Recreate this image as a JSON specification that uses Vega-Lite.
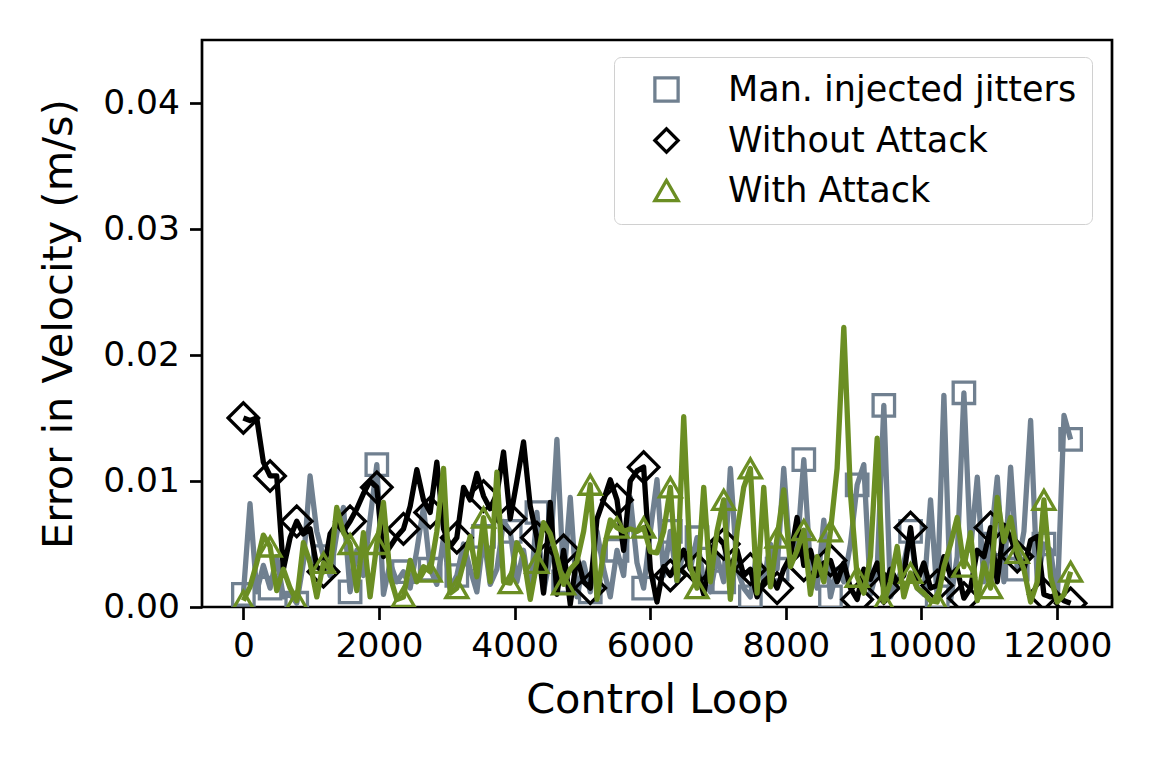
{
"$schema": "https://vega.github.io/schema/vega-lite/v6.json",
"width": 910, "height": 567,
"autosize": "none",
"padding": {"left": 202, "top": 40, "right": 40, "bottom": 161},
"background": "white",
"config": {"font": "DejaVu Sans", "view": {"stroke": "black", "strokeWidth": 2.7},
  "axis": {"grid": false, "domain": false, "tickSize": 12.5, "tickWidth": 2.7, "tickColor": "black", "labelFontSize": 34.5, "labelColor": "black", "labelFont": "DejaVu Sans", "labelPadding": 10, "titleFontSize": 41.5, "titleFont": "DejaVu Sans", "titleFontWeight": "normal", "titleColor": "black", "labelOverlap": false, "labelFlush": false}},
"data": {"values": [
{"i":0,"x":0,"j":0.0010,"w":0.0150,"a":0.0005},
{"i":1,"x":98,"j":0.0082,"w":0.0148,"a":0.0016},
{"i":2,"x":197,"j":0.0012,"w":0.0150,"a":0.0035},
{"i":3,"x":295,"j":0.0033,"w":0.0115,"a":0.0057},
{"i":4,"x":394,"j":0.0015,"w":0.0104,"a":0.0048},
{"i":5,"x":492,"j":0.0040,"w":0.0104,"a":0.0013},
{"i":6,"x":590,"j":0.0008,"w":0.0030,"a":0.0030},
{"i":7,"x":689,"j":0.0010,"w":0.0055,"a":0.0015},
{"i":8,"x":787,"j":0.0003,"w":0.0068,"a":0.0005},
{"i":9,"x":885,"j":0.0035,"w":0.0058,"a":0.0051},
{"i":10,"x":984,"j":0.0104,"w":0.0062,"a":0.0035},
{"i":11,"x":1083,"j":0.0060,"w":0.0032,"a":0.0008},
{"i":12,"x":1181,"j":0.0040,"w":0.0028,"a":0.0035},
{"i":13,"x":1279,"j":0.0025,"w":0.0058,"a":0.0030},
{"i":14,"x":1377,"j":0.0058,"w":0.0066,"a":0.0079},
{"i":15,"x":1476,"j":0.0079,"w":0.0060,"a":0.0059},
{"i":16,"x":1574,"j":0.0012,"w":0.0068,"a":0.0050},
{"i":17,"x":1673,"j":0.0045,"w":0.0078,"a":0.0013},
{"i":18,"x":1771,"j":0.0025,"w":0.0090,"a":0.0059},
{"i":19,"x":1869,"j":0.0070,"w":0.0100,"a":0.0008},
{"i":20,"x":1968,"j":0.0113,"w":0.0095,"a":0.0050},
{"i":21,"x":2066,"j":0.0010,"w":0.0040,"a":0.0083},
{"i":22,"x":2165,"j":0.0035,"w":0.0048,"a":0.0024},
{"i":23,"x":2263,"j":0.0020,"w":0.0056,"a":0.0006},
{"i":24,"x":2361,"j":0.0028,"w":0.0062,"a":0.0008},
{"i":25,"x":2460,"j":0.0015,"w":0.0080,"a":0.0037},
{"i":26,"x":2558,"j":0.0045,"w":0.0109,"a":0.0020},
{"i":27,"x":2656,"j":0.0079,"w":0.0085,"a":0.0032},
{"i":28,"x":2755,"j":0.0030,"w":0.0075,"a":0.0028},
{"i":29,"x":2853,"j":0.0018,"w":0.0115,"a":0.0060},
{"i":30,"x":2952,"j":0.0055,"w":0.0062,"a":0.0110},
{"i":31,"x":3050,"j":0.0015,"w":0.0048,"a":0.0011},
{"i":32,"x":3148,"j":0.0025,"w":0.0055,"a":0.0015},
{"i":33,"x":3247,"j":0.0050,"w":0.0095,"a":0.0035},
{"i":34,"x":3345,"j":0.0030,"w":0.0085,"a":0.0056},
{"i":35,"x":3444,"j":0.0012,"w":0.0106,"a":0.0024},
{"i":36,"x":3542,"j":0.0056,"w":0.0088,"a":0.0071},
{"i":37,"x":3640,"j":0.0018,"w":0.0078,"a":0.0020},
{"i":38,"x":3739,"j":0.0030,"w":0.0090,"a":0.0107},
{"i":39,"x":3837,"j":0.0068,"w":0.0123,"a":0.0020},
{"i":40,"x":3935,"j":0.0060,"w":0.0070,"a":0.0019},
{"i":41,"x":4034,"j":0.0020,"w":0.0100,"a":0.0051},
{"i":42,"x":4132,"j":0.0045,"w":0.0131,"a":0.0040},
{"i":43,"x":4231,"j":0.0010,"w":0.0080,"a":0.0006},
{"i":44,"x":4329,"j":0.0075,"w":0.0055,"a":0.0035},
{"i":45,"x":4427,"j":0.0012,"w":0.0011,"a":0.0067},
{"i":46,"x":4526,"j":0.0040,"w":0.0083,"a":0.0058},
{"i":47,"x":4624,"j":0.0133,"w":0.0010,"a":0.0040},
{"i":48,"x":4723,"j":0.0020,"w":0.0045,"a":0.0018},
{"i":49,"x":4821,"j":0.0087,"w":0.0002,"a":0.0030},
{"i":50,"x":4919,"j":0.0008,"w":0.0040,"a":0.0036},
{"i":51,"x":5018,"j":0.0035,"w":0.0020,"a":0.0060},
{"i":52,"x":5116,"j":0.0012,"w":0.0015,"a":0.0097},
{"i":53,"x":5215,"j":0.0060,"w":0.0070,"a":0.0006},
{"i":54,"x":5313,"j":0.0030,"w":0.0085,"a":0.0045},
{"i":55,"x":5411,"j":0.0008,"w":0.0101,"a":0.0069},
{"i":56,"x":5510,"j":0.0045,"w":0.0085,"a":0.0063},
{"i":57,"x":5608,"j":0.0025,"w":0.0045,"a":0.0060},
{"i":58,"x":5706,"j":0.0087,"w":0.0100,"a":0.0062},
{"i":59,"x":5805,"j":0.0035,"w":0.0108,"a":0.0060},
{"i":60,"x":5903,"j":0.0015,"w":0.0111,"a":0.0063},
{"i":61,"x":6002,"j":0.0060,"w":0.0030,"a":0.0044},
{"i":62,"x":6100,"j":0.0101,"w":0.0004,"a":0.0043},
{"i":63,"x":6198,"j":0.0025,"w":0.0032,"a":0.0060},
{"i":64,"x":6297,"j":0.0060,"w":0.0025,"a":0.0095},
{"i":65,"x":6395,"j":0.0020,"w":0.0035,"a":0.0021},
{"i":66,"x":6494,"j":0.0045,"w":0.0045,"a":0.0151},
{"i":67,"x":6592,"j":0.0030,"w":0.0030,"a":0.0032},
{"i":68,"x":6690,"j":0.0055,"w":0.0030,"a":0.0015},
{"i":69,"x":6789,"j":0.0020,"w":0.0010,"a":0.0095},
{"i":70,"x":6887,"j":0.0012,"w":0.0040,"a":0.0020},
{"i":71,"x":6985,"j":0.0040,"w":0.0056,"a":0.0060},
{"i":72,"x":7084,"j":0.0020,"w":0.0050,"a":0.0085},
{"i":73,"x":7182,"j":0.0110,"w":0.0030,"a":0.0006},
{"i":74,"x":7281,"j":0.0030,"w":0.0045,"a":0.0060},
{"i":75,"x":7379,"j":0.0015,"w":0.0025,"a":0.0095},
{"i":76,"x":7477,"j":0.0008,"w":0.0030,"a":0.0110},
{"i":77,"x":7576,"j":0.0045,"w":0.0008,"a":0.0011},
{"i":78,"x":7674,"j":0.0020,"w":0.0020,"a":0.0095},
{"i":79,"x":7773,"j":0.0050,"w":0.0025,"a":0.0016},
{"i":80,"x":7871,"j":0.0030,"w":0.0015,"a":0.0055},
{"i":81,"x":7969,"j":0.0110,"w":0.0030,"a":0.0093},
{"i":82,"x":8068,"j":0.0035,"w":0.0040,"a":0.0032},
{"i":83,"x":8166,"j":0.0045,"w":0.0071,"a":0.0045},
{"i":84,"x":8265,"j":0.0117,"w":0.0033,"a":0.0061},
{"i":85,"x":8363,"j":0.0030,"w":0.0045,"a":0.0010},
{"i":86,"x":8461,"j":0.0015,"w":0.0025,"a":0.0040},
{"i":87,"x":8560,"j":0.0069,"w":0.0035,"a":0.0020},
{"i":88,"x":8658,"j":0.0008,"w":0.0037,"a":0.0060},
{"i":89,"x":8756,"j":0.0030,"w":0.0020,"a":0.0110},
{"i":90,"x":8855,"j":0.0020,"w":0.0035,"a":0.0222},
{"i":91,"x":8953,"j":0.0050,"w":0.0015,"a":0.0090},
{"i":92,"x":9052,"j":0.0097,"w":0.0006,"a":0.0024},
{"i":93,"x":9150,"j":0.0113,"w":0.0030,"a":0.0011},
{"i":94,"x":9248,"j":0.0010,"w":0.0022,"a":0.0040},
{"i":95,"x":9347,"j":0.0030,"w":0.0035,"a":0.0134},
{"i":96,"x":9445,"j":0.0160,"w":0.0015,"a":0.0004},
{"i":97,"x":9544,"j":0.0008,"w":0.0030,"a":0.0020},
{"i":98,"x":9642,"j":0.0020,"w":0.0020,"a":0.0048},
{"i":99,"x":9740,"j":0.0035,"w":0.0025,"a":0.0008},
{"i":100,"x":9839,"j":0.0060,"w":0.0063,"a":0.0027},
{"i":101,"x":9937,"j":0.0015,"w":0.0020,"a":0.0015},
{"i":102,"x":10035,"j":0.0010,"w":0.0035,"a":0.0011},
{"i":103,"x":10134,"j":0.0085,"w":0.0015,"a":0.0005},
{"i":104,"x":10232,"j":0.0008,"w":0.0017,"a":0.0004},
{"i":105,"x":10331,"j":0.0168,"w":0.0040,"a":0.0032},
{"i":106,"x":10429,"j":0.0005,"w":0.0025,"a":0.0050},
{"i":107,"x":10527,"j":0.0040,"w":0.0030,"a":0.0071},
{"i":108,"x":10626,"j":0.0170,"w":0.0007,"a":0.0032},
{"i":109,"x":10724,"j":0.0045,"w":0.0015,"a":0.0059},
{"i":110,"x":10823,"j":0.0103,"w":0.0045,"a":0.0005},
{"i":111,"x":10921,"j":0.0020,"w":0.0040,"a":0.0035},
{"i":112,"x":11019,"j":0.0050,"w":0.0063,"a":0.0015},
{"i":113,"x":11118,"j":0.0103,"w":0.0020,"a":0.0087},
{"i":114,"x":11216,"j":0.0020,"w":0.0065,"a":0.0052},
{"i":115,"x":11315,"j":0.0111,"w":0.0055,"a":0.0071},
{"i":116,"x":11413,"j":0.0030,"w":0.0040,"a":0.0043},
{"i":117,"x":11511,"j":0.0060,"w":0.0030,"a":0.0030},
{"i":118,"x":11610,"j":0.0148,"w":0.0053,"a":0.0004},
{"i":119,"x":11708,"j":0.0020,"w":0.0056,"a":0.0020},
{"i":120,"x":11806,"j":0.0050,"w":0.0010,"a":0.0085},
{"i":121,"x":11905,"j":0.0045,"w":0.0008,"a":0.0024},
{"i":122,"x":12003,"j":0.0005,"w":0.0010,"a":0.0004},
{"i":123,"x":12102,"j":0.0152,"w":0.0005,"a":0.0010},
{"i":124,"x":12200,"j":0.0133,"w":0.0003,"a":0.0028}
]},
"encoding": {
  "x": {"field": "x", "type": "quantitative", "scale": {"domain": [-610, 12810], "nice": false, "zero": false},
        "axis": {"values": [0, 2000, 4000, 6000, 8000, 10000, 12000], "format": "d", "title": "Control Loop", "titlePadding": 16}}
},
"layer": [
  {"mark": {"type": "line", "stroke": "#708090", "strokeWidth": 5.3, "strokeJoin": "round", "clip": true},
   "encoding": {"y": {"field": "j", "type": "quantitative", "scale": {"domain": [0, 0.045], "nice": false, "zero": true},
     "axis": {"values": [0, 0.01, 0.02, 0.03, 0.04], "format": ".2f", "title": "Error in Velocity (m/s)", "titlePadding": 22}}}},
  {"transform": [{"filter": "datum.i % 4 == 0"}],
   "mark": {"type": "point", "filled": false, "strokeWidth": 3.3, "opacity": 1, "clip": true, "size": 460},
   "encoding": {"y": {"field": "j", "type": "quantitative", "title": "Error in Velocity (m/s)"},
     "color": {"datum": "Man. injected jitters", "type": "nominal", "scale": {"domain": ["Man. injected jitters", "Without Attack", "With Attack"], "range": ["#708090", "#000000", "#6b8e23"]},
       "legend": {"orient": "none", "legendX": 412, "legendY": 17, "title": null, "labelFontSize": 35, "labelFont": "DejaVu Sans", "labelColor": "black", "labelLimit": 0, "symbolSize": 540, "symbolStrokeWidth": 3.3, "symbolOffset": 20, "labelOffset": 44, "padding": 15, "rowPadding": 14, "strokeColor": "#d0d0d0", "fillColor": "white", "cornerRadius": 7,
         "encode": {"legend": {"update": {"strokeWidth": {"value": 2.7}}}}}},
     "shape": {"datum": "Man. injected jitters", "type": "nominal", "scale": {"domain": ["Man. injected jitters", "Without Attack", "With Attack"], "range": ["square", "diamond", "triangle-up"]}}}},
  {"mark": {"type": "line", "stroke": "#000000", "strokeWidth": 5.3, "strokeJoin": "round", "clip": true},
   "encoding": {"y": {"field": "w", "type": "quantitative", "title": "Error in Velocity (m/s)"}}},
  {"transform": [{"filter": "datum.i % 4 == 0"}],
   "mark": {"type": "point", "filled": false, "strokeWidth": 3.3, "opacity": 1, "clip": true, "size": 930},
   "encoding": {"y": {"field": "w", "type": "quantitative", "title": "Error in Velocity (m/s)"},
     "color": {"datum": "Without Attack", "type": "nominal"},
     "shape": {"datum": "Without Attack", "type": "nominal"}}},
  {"mark": {"type": "line", "stroke": "#6b8e23", "strokeWidth": 5.3, "strokeJoin": "round", "clip": true},
   "encoding": {"y": {"field": "a", "type": "quantitative", "title": "Error in Velocity (m/s)"}}},
  {"transform": [{"filter": "datum.i % 4 == 0"}],
   "mark": {"type": "point", "filled": false, "strokeWidth": 3.3, "opacity": 1, "clip": true, "size": 480},
   "encoding": {"y": {"field": "a", "type": "quantitative", "title": "Error in Velocity (m/s)"},
     "color": {"datum": "With Attack", "type": "nominal"},
     "shape": {"datum": "With Attack", "type": "nominal"}}}
]
}
